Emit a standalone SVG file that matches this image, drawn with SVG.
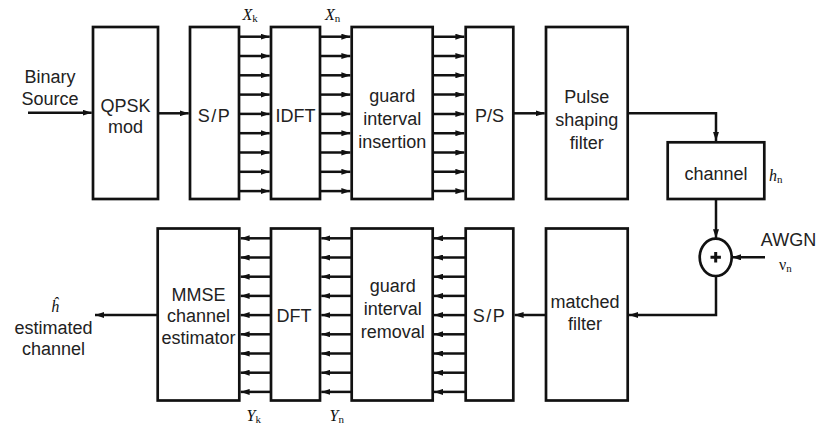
<svg xmlns="http://www.w3.org/2000/svg" width="817" height="429" viewBox="0 0 817 429">
<style>
.box{fill:#fff;stroke:#111;stroke-width:2.7}
.ln{fill:none;stroke:#111;stroke-width:2.5}
.ar{marker-end:url(#ah)}
.t{font-family:"Liberation Sans",Arial,sans-serif;font-size:18px;fill:#222;text-anchor:middle}
.m{font-family:"Liberation Serif","Times New Roman",serif;font-size:16px;fill:#111}
.i{font-style:italic}
.s{font-size:11px}
</style>
<defs>
<marker id="ah" markerUnits="userSpaceOnUse" viewBox="0 0 9 6" refX="9" refY="3" markerWidth="9" markerHeight="6" orient="auto">
<path d="M0,0 L9,3 L0,6 z" fill="#111"/>
</marker>
</defs>
<rect width="817" height="429" fill="#fff"/>

<g id="connectors">
<line class="ln ar" x1="28" y1="112.7" x2="91.7" y2="112.7"/>
<line class="ln ar" x1="158" y1="113.3" x2="188.7" y2="113.3"/>
<g id="sp-idft">
<line class="ln ar" x1="239" y1="36.7" x2="269.7" y2="36.7"/>
<line class="ln ar" x1="239" y1="56" x2="269.7" y2="56"/>
<line class="ln ar" x1="239" y1="75.3" x2="269.7" y2="75.3"/>
<line class="ln ar" x1="239" y1="94.6" x2="269.7" y2="94.6"/>
<line class="ln ar" x1="239" y1="113.9" x2="269.7" y2="113.9"/>
<line class="ln ar" x1="239" y1="133.2" x2="269.7" y2="133.2"/>
<line class="ln ar" x1="239" y1="152.5" x2="269.7" y2="152.5"/>
<line class="ln ar" x1="239" y1="171.8" x2="269.7" y2="171.8"/>
<line class="ln ar" x1="239" y1="191.1" x2="269.7" y2="191.1"/>
</g>
<g id="idft-gi">
<line class="ln ar" x1="320" y1="36.7" x2="350.4" y2="36.7"/>
<line class="ln ar" x1="320" y1="56" x2="350.4" y2="56"/>
<line class="ln ar" x1="320" y1="75.3" x2="350.4" y2="75.3"/>
<line class="ln ar" x1="320" y1="94.6" x2="350.4" y2="94.6"/>
<line class="ln ar" x1="320" y1="113.9" x2="350.4" y2="113.9"/>
<line class="ln ar" x1="320" y1="133.2" x2="350.4" y2="133.2"/>
<line class="ln ar" x1="320" y1="152.5" x2="350.4" y2="152.5"/>
<line class="ln ar" x1="320" y1="171.8" x2="350.4" y2="171.8"/>
<line class="ln ar" x1="320" y1="191.1" x2="350.4" y2="191.1"/>
</g>
<g id="gi-ps">
<line class="ln ar" x1="432.7" y1="36.7" x2="464.4" y2="36.7"/>
<line class="ln ar" x1="432.7" y1="56" x2="464.4" y2="56"/>
<line class="ln ar" x1="432.7" y1="75.3" x2="464.4" y2="75.3"/>
<line class="ln ar" x1="432.7" y1="94.6" x2="464.4" y2="94.6"/>
<line class="ln ar" x1="432.7" y1="113.9" x2="464.4" y2="113.9"/>
<line class="ln ar" x1="432.7" y1="133.2" x2="464.4" y2="133.2"/>
<line class="ln ar" x1="432.7" y1="152.5" x2="464.4" y2="152.5"/>
<line class="ln ar" x1="432.7" y1="171.8" x2="464.4" y2="171.8"/>
<line class="ln ar" x1="432.7" y1="191.1" x2="464.4" y2="191.1"/>
</g>
<line class="ln ar" x1="513.3" y1="113.3" x2="544.7" y2="113.3"/>
<polyline class="ln ar" points="627.7,113.3 716,113.3 716,140.9"/>
<line class="ln ar" x1="716" y1="199" x2="716" y2="238.3"/>
<line class="ln ar" x1="765" y1="257.3" x2="732" y2="257.3"/>
<polyline class="ln ar" points="716,276 716,315 629,315"/>
<line class="ln ar" x1="546" y1="315" x2="514.6" y2="315"/>
<g id="sp-gr">
<line class="ln ar" x1="465.7" y1="238.3" x2="434" y2="238.3"/>
<line class="ln ar" x1="465.7" y1="257.5" x2="434" y2="257.5"/>
<line class="ln ar" x1="465.7" y1="276.7" x2="434" y2="276.7"/>
<line class="ln ar" x1="465.7" y1="295.9" x2="434" y2="295.9"/>
<line class="ln ar" x1="465.7" y1="315.1" x2="434" y2="315.1"/>
<line class="ln ar" x1="465.7" y1="334.3" x2="434" y2="334.3"/>
<line class="ln ar" x1="465.7" y1="353.5" x2="434" y2="353.5"/>
<line class="ln ar" x1="465.7" y1="372.7" x2="434" y2="372.7"/>
<line class="ln ar" x1="465.7" y1="391.9" x2="434" y2="391.9"/>
</g>
<g id="gr-dft">
<line class="ln ar" x1="351.7" y1="238.3" x2="321.3" y2="238.3"/>
<line class="ln ar" x1="351.7" y1="257.5" x2="321.3" y2="257.5"/>
<line class="ln ar" x1="351.7" y1="276.7" x2="321.3" y2="276.7"/>
<line class="ln ar" x1="351.7" y1="295.9" x2="321.3" y2="295.9"/>
<line class="ln ar" x1="351.7" y1="315.1" x2="321.3" y2="315.1"/>
<line class="ln ar" x1="351.7" y1="334.3" x2="321.3" y2="334.3"/>
<line class="ln ar" x1="351.7" y1="353.5" x2="321.3" y2="353.5"/>
<line class="ln ar" x1="351.7" y1="372.7" x2="321.3" y2="372.7"/>
<line class="ln ar" x1="351.7" y1="391.9" x2="321.3" y2="391.9"/>
</g>
<g id="dft-mmse">
<line class="ln ar" x1="271" y1="238.3" x2="240.6" y2="238.3"/>
<line class="ln ar" x1="271" y1="257.5" x2="240.6" y2="257.5"/>
<line class="ln ar" x1="271" y1="276.7" x2="240.6" y2="276.7"/>
<line class="ln ar" x1="271" y1="295.9" x2="240.6" y2="295.9"/>
<line class="ln ar" x1="271" y1="315.1" x2="240.6" y2="315.1"/>
<line class="ln ar" x1="271" y1="334.3" x2="240.6" y2="334.3"/>
<line class="ln ar" x1="271" y1="353.5" x2="240.6" y2="353.5"/>
<line class="ln ar" x1="271" y1="372.7" x2="240.6" y2="372.7"/>
<line class="ln ar" x1="271" y1="391.9" x2="240.6" y2="391.9"/>
</g>
<line class="ln ar" x1="157.7" y1="315" x2="95" y2="315"/>
</g>

<g id="binary-source">
<text class="t" x="50" y="83">Binary</text>
<text class="t" x="50" y="105">Source</text>
</g>
<g id="qpsk">
<rect class="box" x="93" y="27" width="65" height="172"/>
<text class="t" x="125.5" y="111.5">QPSK</text>
<text class="t" x="125.5" y="133">mod</text>
</g>
<g id="sp-tx">
<rect class="box" x="190" y="27" width="49" height="172"/>
<text class="t" x="214.5" y="121.5" letter-spacing="1.5">S/P</text>
</g>
<g id="idft">
<rect class="box" x="271" y="27" width="49" height="172"/>
<text class="t" x="295.5" y="121.5">IDFT</text>
</g>
<g id="gi-insert">
<rect class="box" x="351.7" y="27" width="81" height="172"/>
<text class="t" x="392.2" y="102">guard</text>
<text class="t" x="392.2" y="125">interval</text>
<text class="t" x="392.2" y="148">insertion</text>
</g>
<g id="ps">
<rect class="box" x="465.7" y="27" width="47.6" height="172"/>
<text class="t" x="489.5" y="121.5">P/S</text>
</g>
<g id="pulse">
<rect class="box" x="546" y="27" width="81.7" height="172"/>
<text class="t" x="586.8" y="103">Pulse</text>
<text class="t" x="586.8" y="125.5">shaping</text>
<text class="t" x="586.8" y="148.5">filter</text>
</g>
<g id="channel">
<rect class="box" x="667.7" y="142.3" width="96.6" height="56.7"/>
<text class="t" x="716" y="179.5">channel</text>
<text class="m i" x="769" y="181">h<tspan class="s" font-style="normal" dy="2">n</tspan></text>
</g>
<g id="sum">
<ellipse cx="715.7" cy="257.3" rx="16" ry="18.7" fill="#fff" stroke="#111" stroke-width="2.7"/>
<path d="M710.5,257.3 H720.9 M715.7,252.1 V262.5" stroke="#111" stroke-width="3" fill="none"/>
</g>
<g id="awgn">
<text class="t" x="788.5" y="246" >AWGN</text>
<text class="m" x="779" y="270">ν<tspan class="s" dy="2">n</tspan></text>
</g>
<g id="matched">
<rect class="box" x="546" y="228.5" width="81.7" height="172"/>
<text class="t" x="585" y="307.5">matched</text>
<text class="t" x="585" y="330">filter</text>
</g>
<g id="sp-rx">
<rect class="box" x="465.7" y="228.5" width="47.6" height="172"/>
<text class="t" x="489.5" y="321.5" letter-spacing="1.5">S/P</text>
</g>
<g id="gi-remove">
<rect class="box" x="351.7" y="228.5" width="81" height="172"/>
<text class="t" x="392.7" y="292">guard</text>
<text class="t" x="392.7" y="315">interval</text>
<text class="t" x="392.7" y="337.5">removal</text>
</g>
<g id="dft">
<rect class="box" x="271" y="228.5" width="49" height="172"/>
<text class="t" x="294" y="321.5">DFT</text>
</g>
<g id="mmse">
<rect class="box" x="157.7" y="228.5" width="81.6" height="172"/>
<text class="t" x="198.5" y="300.5">MMSE</text>
<text class="t" x="198.5" y="322">channel</text>
<text class="t" x="198.5" y="343.5">estimator</text>
</g>
<g id="output">
<text class="m i" x="51" y="312" font-size="17">ĥ</text>
<text class="t" x="53.5" y="333.5">estimated</text>
<text class="t" x="53.5" y="355">channel</text>
</g>
<g id="labels">
<text class="m i" x="242.5" y="19.5">X<tspan class="s" font-style="normal" dy="2">k</tspan></text>
<text class="m i" x="325" y="19.5">X<tspan class="s" font-style="normal" dy="2">n</tspan></text>
<text class="m i" x="246.5" y="420.5">Y<tspan class="s" font-style="normal" dy="2">k</tspan></text>
<text class="m i" x="329.5" y="420.5">Y<tspan class="s" font-style="normal" dy="2">n</tspan></text>
</g>
</svg>
